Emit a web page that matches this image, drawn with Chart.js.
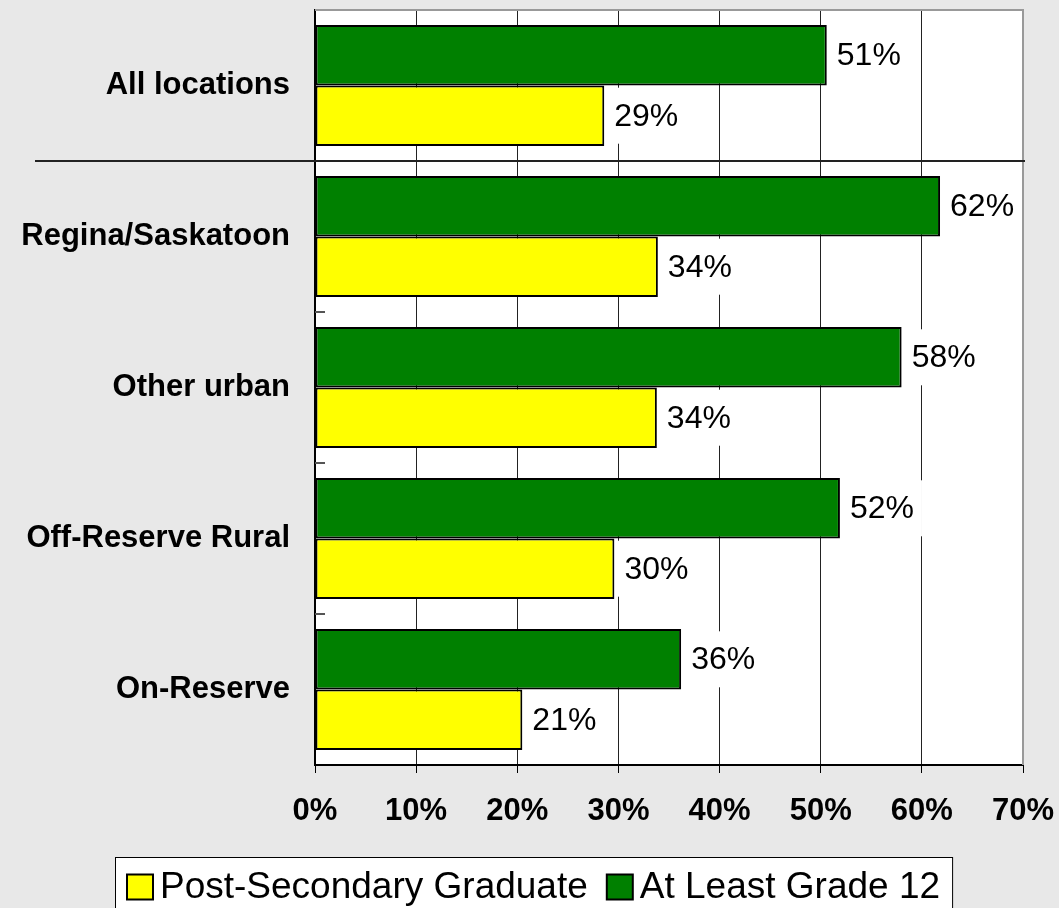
<!DOCTYPE html>
<html>
<head>
<meta charset="utf-8">
<script src="https://cdn.jsdelivr.net/npm/chart.js@4/dist/chart.umd.min.js"></script>
<style>
  html, body { margin: 0; padding: 0; background: #e8e8e8; }
  #wrap { width: 1059px; height: 908px; position: relative; }
</style>
</head>
<body>
<div id="wrap"><canvas id="c" width="1059" height="908"></canvas></div>
<script>
const categories = ['All locations', 'Regina/Saskatoon', 'Other urban', 'Off-Reserve Rural', 'On-Reserve'];
const atLeastGrade12 = [50.6, 61.8, 58.0, 51.9, 36.2];
const postSecondaryGraduate = [28.6, 33.9, 33.8, 29.6, 20.5];
const seriesNames = ['At Least Grade 12', 'Post-Secondary Graduate'];
const xMin = 0, xMax = 70, xStep = 10;

const FONT = '"Liberation Sans", Arial, Helvetica, sans-serif';

const bgPlugin = {
  id: 'bg',
  beforeDraw(chart) {
    const { ctx, chartArea: a } = chart;
    ctx.save();
    ctx.fillStyle = '#e8e8e8';
    ctx.fillRect(0, 0, chart.width, chart.height);
    ctx.fillStyle = '#ffffff';
    ctx.fillRect(a.left, a.top, a.right - a.left, a.bottom - a.top);
    ctx.restore();
  },
  afterDraw(chart) {
    const { ctx, chartArea: a, scales } = chart;
    const y = scales.y;
    ctx.save();
    ctx.strokeStyle = '#999999';
    ctx.lineWidth = 2;
    ctx.beginPath();
    ctx.moveTo(a.left, a.top);
    ctx.lineTo(a.right, a.top);
    ctx.lineTo(a.right, a.bottom);
    ctx.stroke();
    ctx.strokeStyle = '#555555';
    ctx.lineWidth = 2;
    for (let i = 1; i < categories.length; i++) {
      const yy = Math.round((y.getPixelForValue(i - 1) + y.getPixelForValue(i)) / 2);
      ctx.beginPath();
      ctx.moveTo(a.left, yy);
      ctx.lineTo(a.left + 10, yy);
      ctx.stroke();
    }
    const sep = Math.round((y.getPixelForValue(0) + y.getPixelForValue(1)) / 2);
    ctx.strokeStyle = '#222222';
    ctx.lineWidth = 2;
    ctx.beginPath();
    ctx.moveTo(35, sep);
    ctx.lineTo(a.right + 2, sep);
    ctx.stroke();

    const order = [1, 0];
    ctx.font = '37px ' + FONT;
    ctx.textBaseline = 'middle';
    const boxW = 26, boxH = 25, gapBoxText = 7, gapItems = 19;
    const startX = 127, cy = 887;
    let x = startX;
    const items = [];
    order.forEach(di => {
      const ds = chart.data.datasets[di];
      const tw = ctx.measureText(ds.label).width;
      items.push({ ds, x, tw });
      x += boxW + gapBoxText + tw + gapItems;
    });
    const right = x - gapItems + 12;
    ctx.fillStyle = '#ffffff';
    ctx.fillRect(115, 857, right - 115, 60);
    ctx.strokeStyle = '#000000';
    ctx.lineWidth = 1;
    ctx.strokeRect(115.5, 857.5, right - 115, 60);
    items.forEach(it => {
      ctx.fillStyle = it.ds.backgroundColor;
      ctx.fillRect(it.x, cy - boxH / 2, boxW, boxH);
      ctx.strokeStyle = '#000000';
      ctx.lineWidth = 2;
      ctx.strokeRect(it.x, cy - boxH / 2, boxW, boxH);
      ctx.fillStyle = '#000000';
      ctx.textAlign = 'left';
      ctx.fillText(it.ds.label, it.x + boxW + gapBoxText, cy + 1);
    });
    ctx.restore();
  }
};

const labelPlugin = {
  id: 'valueLabels',
  afterDatasetsDraw(chart) {
    const { ctx } = chart;
    ctx.save();
    ctx.font = '32px ' + FONT;
    ctx.textAlign = 'left';
    ctx.textBaseline = 'middle';
    chart.data.datasets.forEach((ds, di) => {
      const meta = chart.getDatasetMeta(di);
      meta.data.forEach((bar, i) => {
        const txt = Math.round(ds.data[i]) + '%';
        const tw = ctx.measureText(txt).width;
        ctx.fillStyle = '#ffffff';
        ctx.fillRect(bar.x + 3, bar.y - 28, tw + 15, 56);
        ctx.fillStyle = '#000000';
        ctx.fillText(txt, bar.x + 10, bar.y + 1);
      });
    });
    ctx.restore();
  }
};

function zeroPad(s) {
  s.paddingTop = 0; s.paddingBottom = 0; s.paddingLeft = 0; s.paddingRight = 0;
}

new Chart(document.getElementById('c'), {
  type: 'bar',
  data: {
    labels: categories,
    datasets: [
      {
        label: seriesNames[0],
        data: atLeastGrade12,
        backgroundColor: '#008000',
        borderColor: '#000000',
        borderWidth: 2,
        borderSkipped: false,
        categoryPercentage: 0.8,
        barPercentage: 1.0
      },
      {
        label: seriesNames[1],
        data: postSecondaryGraduate,
        backgroundColor: '#ffff00',
        borderColor: '#000000',
        borderWidth: 2,
        borderSkipped: false,
        categoryPercentage: 0.8,
        barPercentage: 1.0
      }
    ]
  },
  options: {
    indexAxis: 'y',
    responsive: false,
    maintainAspectRatio: false,
    animation: false,
    devicePixelRatio: 1,
    layout: { autoPadding: false, padding: { top: 10, right: 36, bottom: 68, left: 0 } },
    plugins: {
      legend: { display: false },
      title: { display: false },
      tooltip: { enabled: false }
    },
    scales: {
      x: {
        min: xMin,
        max: xMax,
        ticks: {
          stepSize: xStep,
          callback: v => v + '%',
          font: { family: FONT, size: 31, weight: 'bold' },
          color: '#000000',
          padding: 20
        },
        grid: {
          color: c => (c.tick && c.tick.value === xMax ? '#999999' : '#222222'),
          tickColor: '#000000',
          lineWidth: 1,
          tickLength: 8,
          drawTicks: true
        },
        border: { color: '#000000', width: 2 },
        afterFit: s => { s.height = 75; zeroPad(s); }
      },
      y: {
        ticks: {
          font: { family: FONT, size: 31, weight: 'bold' },
          color: '#000000',
          padding: 25
        },
        grid: { display: false, drawTicks: false },
        border: { color: '#000000', width: 2 },
        afterFit: s => { s.width = 315; zeroPad(s); }
      }
    }
  },
  plugins: [bgPlugin, labelPlugin]
});
</script>
</body>
</html>
